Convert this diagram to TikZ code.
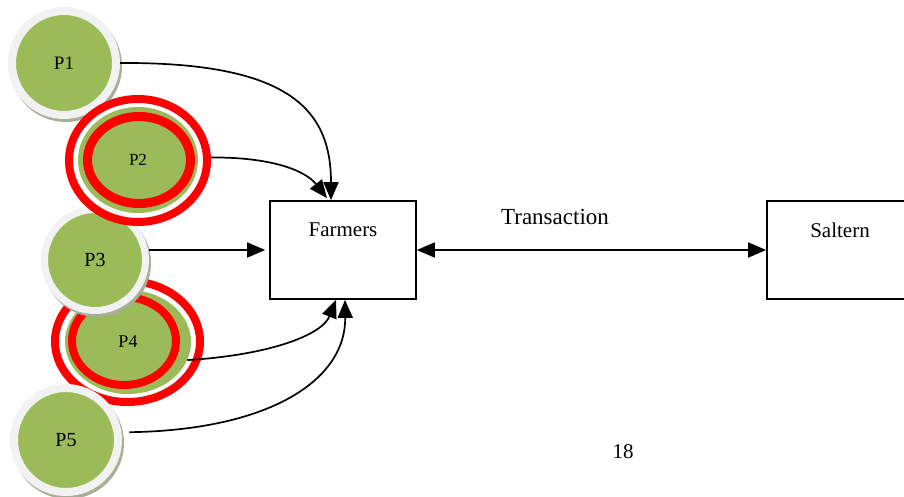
\documentclass[tikz,border=0pt]{standalone}
\usepackage{fontspec}
\setmainfont{Liberation Serif}
\usetikzlibrary{shapes.geometric,arrows.meta,positioning,calc}

\definecolor{pgreen}{HTML}{9BBB59}
\definecolor{ringgrey}{HTML}{F2F2F2}
\definecolor{shadowc}{HTML}{A9AE98}
\definecolor{ringred}{HTML}{FF0000}

\tikzset{
    pball/.style={circle, fill=pgreen, draw=ringgrey, line width=8pt, minimum size=104pt, inner sep=0pt,
        preaction={draw=shadowc, fill=shadowc, transform canvas={shift={(2pt,-3pt)}}}},
    pring/.style={ellipse, draw=ringred, line width=8pt, inner sep=0pt},
    pegg/.style={ellipse, fill=pgreen, inner sep=0pt},
    partybox/.style={draw, line width=1.7pt, minimum width=146pt, minimum height=98pt},
    arr/.style={-{Triangle[length=18pt,width=15pt]}, line width=1.7pt},
}

\begin{document}
\begin{tikzpicture}[x=1pt,y=-1pt]
    \clip (0,0) rectangle (904,497);
    \fill[white] (0,0) rectangle (904,497);

    % producers
    \node[pball] (p1) at (64,63) {\fontsize{19}{22}\selectfont P1};

    \node[pring, minimum width=145pt, minimum height=121pt] (p4ring) at (127.5,341.5) {};
    \node[pegg, minimum width=126pt, minimum height=104pt] (p4) at (128,342) {\fontsize{18}{21}\selectfont P4};
    \draw[ringred, line width=8pt] (124,341) ellipse (52 and 44);
    \node[pball, minimum size=101pt, line width=7pt] (p3) at (95,260) {\fontsize{20}{23}\selectfont P3};

    \node[pball] (p5) at (66,440) {\fontsize{20}{23}\selectfont P5};

    \node[pring, minimum width=138pt, minimum height=123pt] (p2ring) at (138,160.5) {};
    \node[pegg, minimum width=120pt, minimum height=106pt] (p2) at (138,160) {\fontsize{17}{20}\selectfont P2};
    \draw[ringred, line width=9pt] (139,160) ellipse (51.5 and 43.5);

    % parties
    \node[partybox] (farmers) at (343,250) {};
    \node[below=19pt of farmers.north, font=\fontsize{21}{24}\selectfont] (farmerslbl) {Farmers};
    \node[partybox] (saltern) at (840,250) {};
    \node[below=19pt of saltern.north, font=\fontsize{21}{24}\selectfont] (salternlbl) {Saltern};

    % flows into farmers
    \draw[arr] (p1.east) .. controls (290,62) and (331,110) .. ([xshift=-12pt]farmers.north);
    \draw[arr] ([yshift=3pt]p2ring.east) .. controls (270,157) and (305,170) .. ([xshift=-16pt,yshift=2pt]farmers.north);
    \draw[arr] (p3.east |- farmers.west) -- ([xshift=-4pt]farmers.west);
    \draw[arr] (p4.-17) .. controls (270,355) and (322,335) .. ([xshift=-7pt]farmers.south);
    \draw[arr] ([xshift=8pt]p5.8) .. controls (270,430) and (346,380) .. ([xshift=2pt]farmers.south);

    % transaction
    \draw[{Triangle[length=18pt,width=15pt]}-{Triangle[length=18pt,width=15pt]}, line width=1.7pt] (farmers.east) -- (saltern.west);
    \node[font=\fontsize{23}{26}\selectfont] (translbl) at (555,217) {Transaction};

    \node[font=\fontsize{21}{24}\selectfont] (pagenum) at (623,452) {18};
\end{tikzpicture}
\end{document}
